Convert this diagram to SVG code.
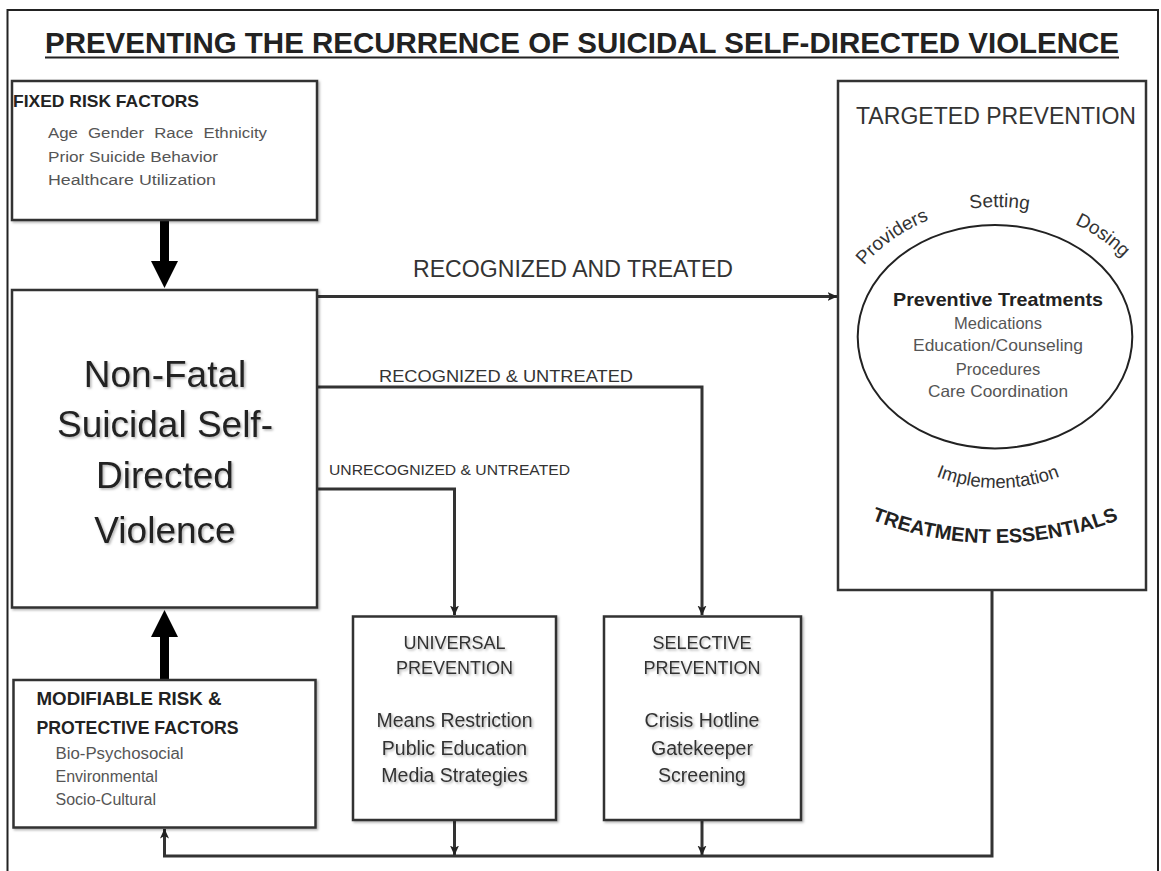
<svg xmlns="http://www.w3.org/2000/svg" width="1161" height="871" viewBox="0 0 1161 871">
<defs>
<filter id="sh" x="-10%" y="-10%" width="130%" height="130%"><feDropShadow dx="1.5" dy="1.5" stdDeviation="1.2" flood-color="#000" flood-opacity="0.3"/></filter>
<marker id="ah" viewBox="0 0 10 10" refX="9.5" refY="5" markerWidth="10" markerHeight="10" markerUnits="userSpaceOnUse" orient="auto"><path d="M0,0.5 L10,5 L0,9.5 L2.5,5 z" fill="#222"/></marker>
<path id="topArc" d="M 827,362 A 170,155 0 0,1 1167,362"/>
<path id="implArc" d="M 884.6,445 A 171,171 0 0,0 1111.4,445"/>
<path id="essArc" d="M 812.4,490 A 341,341 0 0,0 1177.6,490"/>
</defs>
<style>
.box{fill:#fff;stroke:#333;stroke-width:2.5}
.t{font-family:"Liberation Sans",Arial,sans-serif}
.b{font-weight:bold}
.hd{fill:#222}
.it{fill:#555}
.lbl{fill:#333}
.con{fill:none;stroke:#333;stroke-width:3}
</style>
<rect x="0" y="0" width="1161" height="871" fill="#fff"/>
<rect x="7.5" y="10" width="1150.5" height="880" fill="none" stroke="#222" stroke-width="2"/>
<g id="title">
<text class="t b hd" x="45" y="53" font-size="29.5" textLength="1074" lengthAdjust="spacingAndGlyphs">PREVENTING THE RECURRENCE OF SUICIDAL SELF-DIRECTED VIOLENCE</text>
<line x1="45" y1="57.5" x2="1119" y2="57.5" stroke="#222" stroke-width="2"/>
</g>
<g id="connectors">
<polyline class="con" points="317,296.5 837,296.5" marker-end="url(#ah)"/>
<text class="t lbl" x="413" y="276.5" font-size="23" textLength="320" lengthAdjust="spacingAndGlyphs">RECOGNIZED AND TREATED</text>
<polyline class="con" points="317,387 702,387 702,615" marker-end="url(#ah)"/>
<text class="t lbl" x="379" y="381.5" font-size="17" textLength="254" lengthAdjust="spacingAndGlyphs">RECOGNIZED &amp; UNTREATED</text>
<polyline class="con" points="317,489 454.5,489 454.5,615" marker-end="url(#ah)"/>
<text class="t lbl" x="329" y="475" font-size="15.5" textLength="241" lengthAdjust="spacingAndGlyphs">UNRECOGNIZED &amp; UNTREATED</text>
<polyline class="con" points="454.5,820 454.5,855" marker-end="url(#ah)"/>
<polyline class="con" points="702,820 702,855" marker-end="url(#ah)"/>
<polyline class="con" points="992,590 992,856 164.5,856 164.5,829" marker-end="url(#ah)"/>
<rect x="160" y="220" width="9" height="44" fill="#000"/>
<polygon points="151,261 178,261 164.5,288" fill="#000"/>
<rect x="160" y="634" width="9" height="47" fill="#000"/>
<polygon points="151,637 178,637 164.5,610" fill="#000"/>
</g>
<g id="fixed-risk">
<rect class="box" x="12" y="81" width="305" height="139" filter="url(#sh)"/>
<text class="t b hd" x="13" y="106.5" font-size="17" textLength="186" lengthAdjust="spacingAndGlyphs">FIXED RISK FACTORS</text>
<text class="t it" x="48" y="137.5" font-size="15.5" textLength="219" lengthAdjust="spacingAndGlyphs" word-spacing="5">Age Gender Race Ethnicity</text>
<text class="t it" x="48" y="161.5" font-size="15.5" textLength="170" lengthAdjust="spacingAndGlyphs">Prior Suicide Behavior</text>
<text class="t it" x="48" y="185" font-size="15.5" textLength="168" lengthAdjust="spacingAndGlyphs">Healthcare Utilization</text>
</g>
<g id="non-fatal">
<rect class="box" x="12" y="290" width="305" height="317.5" filter="url(#sh)"/>
<g class="t hd" font-size="37" text-anchor="middle" filter="url(#sh)">
<text x="165" y="386.5">Non-Fatal</text>
<text x="165" y="437">Suicidal Self-</text>
<text x="165" y="488">Directed</text>
<text x="165" y="543">Violence</text>
</g>
</g>
<g id="modifiable">
<rect class="box" x="13.5" y="680" width="302" height="147.5" filter="url(#sh)"/>
<text class="t b hd" x="36.5" y="705" font-size="17.5" textLength="185" lengthAdjust="spacingAndGlyphs">MODIFIABLE RISK &amp;</text>
<text class="t b hd" x="36.5" y="733.5" font-size="17.5" textLength="202" lengthAdjust="spacingAndGlyphs">PROTECTIVE FACTORS</text>
<text class="t it" x="55.5" y="759" font-size="16" textLength="128" lengthAdjust="spacingAndGlyphs">Bio-Psychosocial</text>
<text class="t it" x="55.5" y="781.5" font-size="16">Environmental</text>
<text class="t it" x="55.5" y="805" font-size="16">Socio-Cultural</text>
</g>
<g id="universal">
<rect class="box" x="353" y="616.5" width="203" height="203.5" filter="url(#sh)"/>
<g class="t lbl" text-anchor="middle" filter="url(#sh)">
<text x="454.5" y="648.5" font-size="18">UNIVERSAL</text>
<text x="454.5" y="674" font-size="18">PREVENTION</text>
<text x="454.5" y="726.5" font-size="19.5">Means Restriction</text>
<text x="454.5" y="755" font-size="19.5">Public Education</text>
<text x="454.5" y="781.5" font-size="19.5">Media Strategies</text>
</g>
</g>
<g id="selective">
<rect class="box" x="604" y="616.5" width="197" height="203.5" filter="url(#sh)"/>
<g class="t lbl" text-anchor="middle" filter="url(#sh)">
<text x="702" y="648.5" font-size="18">SELECTIVE</text>
<text x="702" y="674" font-size="18">PREVENTION</text>
<text x="702" y="726.5" font-size="19.5">Crisis Hotline</text>
<text x="702" y="755" font-size="19.5">Gatekeeper</text>
<text x="702" y="781.5" font-size="19.5">Screening</text>
</g>
</g>
<g id="targeted">
<rect class="box" x="838" y="81" width="308" height="509"/>
<text class="t lbl" x="996" y="123.5" font-size="23" text-anchor="middle" textLength="280" lengthAdjust="spacingAndGlyphs">TARGETED PREVENTION</text>
<ellipse cx="995" cy="336.7" rx="137.3" ry="111.7" fill="none" stroke="#222" stroke-width="2"/>
<text class="t lbl" font-size="19"><textPath href="#topArc" startOffset="28.5%" text-anchor="middle">Providers</textPath></text>
<text class="t lbl" font-size="19"><textPath href="#topArc" startOffset="50.5%" text-anchor="middle">Setting</textPath></text>
<text class="t lbl" font-size="19"><textPath href="#topArc" startOffset="71.5%" text-anchor="middle">Dosing</textPath></text>
<text class="t b hd" x="998" y="306" font-size="19" text-anchor="middle" textLength="210" lengthAdjust="spacingAndGlyphs">Preventive Treatments</text>
<g class="t it" font-size="16.5" text-anchor="middle">
<text x="998" y="328.5">Medications</text>
<text x="998" y="351" textLength="170" lengthAdjust="spacingAndGlyphs">Education/Counseling</text>
<text x="998" y="375">Procedures</text>
<text x="998" y="397" textLength="140" lengthAdjust="spacingAndGlyphs">Care Coordination</text>
</g>
<text class="t lbl" font-size="18.5"><textPath href="#implArc" startOffset="50%" text-anchor="middle">Implementation</textPath></text>
<text class="t b hd" font-size="20"><textPath href="#essArc" startOffset="50%" text-anchor="middle">TREATMENT ESSENTIALS</textPath></text>
</g>
</svg>
